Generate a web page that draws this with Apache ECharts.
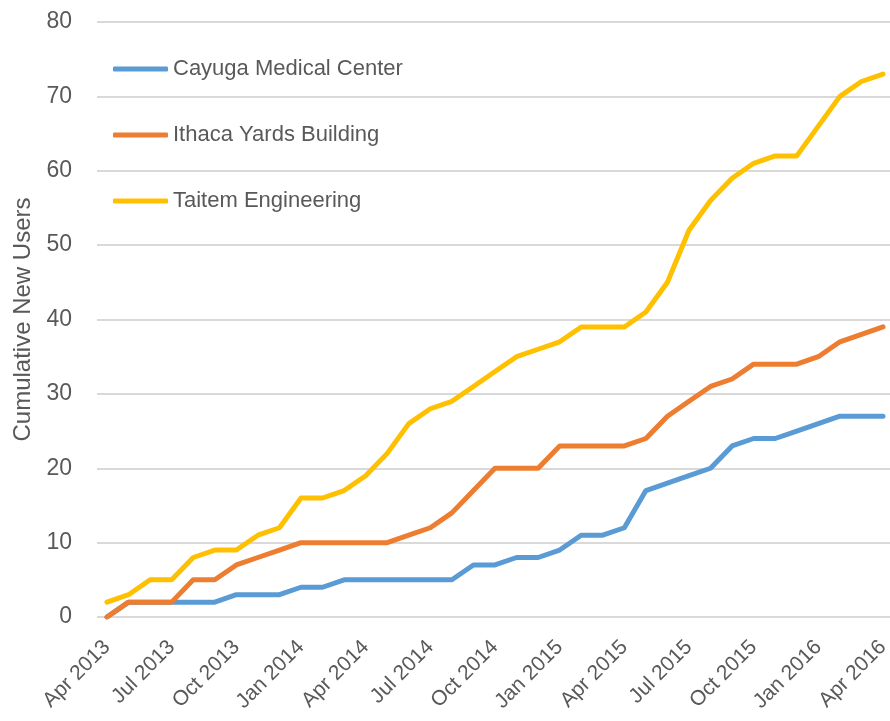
<!DOCTYPE html>
<html>
<head>
<meta charset="utf-8">
<title>Cumulative New Users</title>
<script src="https://cdn.jsdelivr.net/npm/echarts@6/dist/echarts.min.js"></script>
<style>
  html, body { margin: 0; padding: 0; background: #fff; }
  #main { width: 890px; height: 721px; }
</style>
</head>
<body>
<div id="main"></div>
<script>
var months = [
    'Apr 2013', 'May 2013', 'Jun 2013', 'Jul 2013', 'Aug 2013', 'Sep 2013',
    'Oct 2013', 'Nov 2013', 'Dec 2013', 'Jan 2014', 'Feb 2014', 'Mar 2014',
    'Apr 2014', 'May 2014', 'Jun 2014', 'Jul 2014', 'Aug 2014', 'Sep 2014',
    'Oct 2014', 'Nov 2014', 'Dec 2014', 'Jan 2015', 'Feb 2015', 'Mar 2015',
    'Apr 2015', 'May 2015', 'Jun 2015', 'Jul 2015', 'Aug 2015', 'Sep 2015',
    'Oct 2015', 'Nov 2015', 'Dec 2015', 'Jan 2016', 'Feb 2016', 'Mar 2016',
    'Apr 2016'
];
var cayuga = [0, 2, 2, 2, 2, 2, 3, 3, 3, 4, 4, 5, 5, 5, 5, 5, 5, 7, 7, 8, 8, 9, 11, 11, 12, 17, 18, 19, 20, 23, 24, 24, 25, 26, 27, 27, 27];
var ithaca = [0, 2, 2, 2, 5, 5, 7, 8, 9, 10, 10, 10, 10, 10, 11, 12, 14, 17, 20, 20, 20, 23, 23, 23, 23, 24, 27, 29, 31, 32, 34, 34, 34, 35, 37, 38, 39];
var taitem = [2, 3, 5, 5, 8, 9, 9, 11, 12, 16, 16, 17, 19, 22, 26, 28, 29, 31, 33, 35, 36, 37, 39, 39, 39, 41, 45, 52, 56, 59, 61, 62, 62, 66, 70, 72, 73];
var yTicks = [0, 10, 20, 30, 40, 50, 60, 70, 80];

var font = "'Liberation Sans', Arial, sans-serif";
var textColor = '#595959';

var myChart = echarts.init(document.getElementById('main'));

function line(name, data, color) {
    return {
        name: name,
        type: 'line',
        xAxisIndex: 1,
        yAxisIndex: 1,
        data: data,
        symbol: 'none',
        color: color,
        lineStyle: { width: 5, color: color, cap: 'round', join: 'round' }
    };
}

option = {
    animation: false,
    legend: {
        orient: 'vertical',
        left: 108,
        top: 49,
        itemWidth: 55,
        itemHeight: 5,
        itemGap: 36,
        icon: 'roundRect',
        textStyle: { fontFamily: font, fontSize: 22, color: textColor, lineHeight: 30 },
        data: ['Cayuga Medical Center', 'Ithaca Yards Building', 'Taitem Engineering']
    },
    grid: [
        { left: 97, right: 0, top: 22, bottom: 104, outerBoundsMode: 'none' },
        { left: 107, right: 7, top: 22, bottom: 104, outerBoundsMode: 'none' }
    ],
    xAxis: [
        { type: 'value', gridIndex: 0, show: false },
        {
            type: 'category',
            gridIndex: 1,
            data: months,
            boundaryGap: false,
            axisLine: { show: false },
            axisTick: { show: false },
            axisLabel: {
                interval: 2,
                rotate: 45,
                margin: 27,
                fontFamily: font,
                fontSize: 21,
                color: textColor
            }
        }
    ],
    yAxis: [
        {
            type: 'value',
            gridIndex: 0,
            min: yTicks[0],
            max: yTicks[yTicks.length - 1],
            interval: 10,
            name: 'Cumulative New Users',
            nameLocation: 'middle',
            nameGap: 58,
            nameTextStyle: { fontFamily: font, fontSize: 24, color: textColor },
            axisLine: { show: false },
            axisTick: { show: false },
            axisLabel: { margin: 25, fontFamily: font, fontSize: 23, color: textColor },
            splitLine: { lineStyle: { color: '#d9d9d9', width: 2 } }
        },
        {
            type: 'value',
            gridIndex: 1,
            min: yTicks[0],
            max: yTicks[yTicks.length - 1],
            interval: 10,
            show: false,
            splitLine: { show: false }
        }
    ],
    series: [
        line('Cayuga Medical Center', cayuga, '#5b9bd5'),
        line('Ithaca Yards Building', ithaca, '#ed7d31'),
        line('Taitem Engineering', taitem, '#ffc000')
    ]
};
myChart.setOption(option);
</script>
</body>
</html>
